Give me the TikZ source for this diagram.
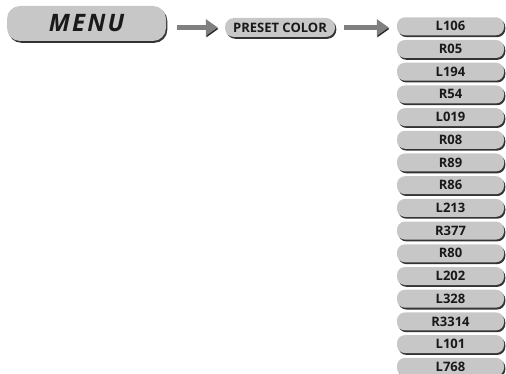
\documentclass[tikz,border=0pt]{standalone}
\usepackage{fontspec}
\setmainfont{Open Sans}
\usetikzlibrary{arrows.meta,positioning,shadows}
\definecolor{btn}{gray}{0.78}
\definecolor{shaft}{gray}{0.5}
\definecolor{ink}{gray}{0.1}
\tikzset{
  button/.style={fill=btn,rounded corners=#1,inner sep=0pt,text=ink,
    drop shadow={opacity=1,fill=black!80,shadow xshift=1.3pt,shadow yshift=-1.8pt}},
  button/.default=8pt,
  choice/.style={button,minimum width=107pt,minimum height=18pt,
    font=\fontsize{13}{13}\selectfont\bfseries},
  pointer/.style={draw=shaft,line width=5.5pt,-{Triangle[width=16pt,length=12pt]},
    preaction={draw=black!85,transform canvas={shift={(0.6pt,-1.4pt)}}}},
}
\begin{document}
\begin{tikzpicture}[x=1pt,y=-1pt]
  \useasboundingbox (0,0) rectangle (506,374);
  % menu levels
  \node[button=13pt,minimum width=159pt,minimum height=35pt,
    font=\fontsize{24}{24}\selectfont\bfseries\itshape\addfontfeature{LetterSpace=9}] (menu) at (86.5,23.5) {MENU};
  \node[button=9pt,minimum width=110pt,minimum height=19pt,
    font=\fontsize{13}{13}\selectfont\bfseries] (preset) at (280,27.5) {PRESET COLOR};
  % colour list
  \foreach \lab [count=\i] in {L106,R05,L194,R54,L019,R08,R89,R86,L213,R377,R80,L202,L328,R3314,L101,L768}
    \node[choice] (col\i) at (450.5,{26.3+22.7*(\i-1)}) {\lab};
  \draw[pointer,shorten <=11pt,shorten >=7pt] (menu.east |- preset.west) -- (preset.west);
  \draw[pointer,shorten <=9pt,shorten >=8pt] (preset.east) -- (preset.east -| col1.west);
\end{tikzpicture}
\end{document}
